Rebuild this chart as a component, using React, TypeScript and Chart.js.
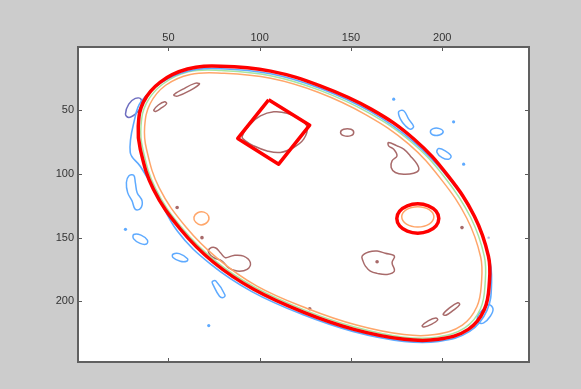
import { useEffect, useRef } from "react";
import { Chart, registerables } from "chart.js";

Chart.register(...registerables);

type P = [number, number];

// axis setup
const axisMin = 0.5;
const axisMax = 247.5;
const xTickValues = [50, 100, 150, 200];
const yTickValues = [50, 100, 150, 200];

// ---- contour lines (data coordinates) ----
const redEllipse: P[] = [
  [78.6, 15.5], [106, 19.4], [133.5, 31.2], [161, 49.2], [184.6, 72.8], [203.3, 101.8],
  [217.6, 133.2], [225.3, 164.6], [225.8, 185], [223.1, 206.2], [214.3, 221.9], [197.8, 229.7],
  [179.1, 229.7], [151.6, 221.9], [124.2, 208.6], [96.7, 190.5], [74.7, 169.3], [56.6, 143.4],
  [41.8, 112], [34.6, 80.6], [33.5, 62.6], [36.3, 43.7], [45.6, 28], [60.4, 17.8],
];
const blueEllipse: P[] = [
  [78.8, 17.5], [106, 21.5], [133.3, 33], [160.5, 51], [184, 74.5], [203, 102.5],
  [217.5, 133.5], [225.5, 164.5], [227, 185], [224.5, 207], [215, 223.5], [198, 231.3],
  [179, 231.3], [151, 223.5], [123.5, 210.3], [95.7, 192.3], [73.3, 171], [55, 145],
  [43, 114], [34.6, 94], [29.1, 83], [31.9, 54.7], [35, 43.5], [45.5, 29], [60.6, 19.5],
];
const greenEllipse: P[] = [
  [79, 19], [106, 23], [133, 34.5], [159.5, 52], [183, 75], [201.5, 103],
  [215.5, 134], [223, 164.5], [223.5, 185], [221, 205.5], [212.5, 220.5], [197, 228],
  [179, 228], [152, 220], [125, 207], [97.5, 189], [75.5, 168], [57.5, 142.5],
  [43, 111.5], [36, 80.5], [35, 62.5], [38, 44.5], [47, 29.5], [61, 20],
];
const orangeEllipse: P[] = [
  [79, 21], [106, 25], [132, 36], [158, 53.5], [181.5, 76.5], [199.5, 104.5],
  [213.5, 135], [221, 165], [221.5, 184.5], [219, 204], [211, 218.5], [196, 226],
  [179, 226], [153, 218.5], [126, 205.5], [98.5, 188], [77, 166.5], [59.5, 141.5],
  [45, 111], [38, 80.5], [37, 63], [40, 45], [48.5, 30.5], [62, 22],
];
const redSquare: P[] = [
  [104.9, 41.9], [127.4, 61.8], [110.4, 92.4], [88.0, 72.2],
];
const redCircle: P[] = [
  [198.1, 135], [196.6, 140.75], [192.35, 144.96], [186.6, 146.5], [180.85, 144.96], [176.64, 140.75],
  [175.1, 135], [176.64, 129.25], [180.85, 125.04], [186.6, 123.5], [192.35, 125.04], [196.6, 129.25],
];
const orangeCircle: P[] = [
  [195.4, 133.7], [192.8, 139.4], [186.6, 141.7], [180.4, 139.4],
  [177.8, 133.7], [180.4, 128], [186.6, 125.7], [192.8, 128],
];
const orangeBlob: P[] = [
  [64, 134], [66, 130.5], [69.5, 130], [72, 133], [71.5, 137.5], [68, 140], [65, 138],
];
const purpleBlob: P[] = [
  [26.5, 53.1], [28.3, 45.3], [31.9, 40.8], [35.0, 41.4], [34.7, 47.9], [31.9, 53.1], [28.3, 55.7],
];
const brownInSquare: P[] = [
  [90.4, 70.7], [94.9, 61.0], [100.4, 54.5], [107.7, 51.3], [115.0, 52.4], [122.3, 57.1], [126.0, 63.6],
  [124.1, 72.8], [118.6, 79.3], [111.3, 83.2], [104.1, 82.0], [96.7, 78.0], [92.2, 74.1],
];
const brownSmallOval: P[] = [
  [144.3, 67.5], [146, 65], [150, 65], [151.5, 67.5], [150, 70], [146, 70],
];
const brownHook: P[] = [
  [170.6, 75.4], [175.2, 78.0], [178.9, 80.6], [182.5, 85.9], [186.2, 92.4], [187.1, 96.9], [184.3, 99.5],
  [178.9, 100.3], [174.3, 98.9], [172.0, 95.0], [172.5, 89.8], [175.2, 85.9], [173.4, 80.6], [170.6, 78.0],
];
const brownBlobLower: P[] = [
  [156.1, 164.5], [159.7, 161.3], [164.3, 160.5], [168.8, 162.3], [173.8, 164.5], [172.5, 169.6],
  [173.8, 176.2], [169.8, 178.8], [164.3, 178.0], [160.6, 176.2], [157.9, 172.3], [156.6, 168.4],
];
const brownLoopLeft: P[] = [
  [72.6, 158.6], [75.7, 157.9], [78.5, 161.8], [81.2, 165.7], [85.8, 163.9], [91.2, 164.5], [94.9, 169.6],
  [93.1, 174.9], [87.6, 176.2], [83.0, 173.6], [79.4, 168.4], [74.8, 165.7], [72.1, 161.8],
];
const brownTopLeftA: P[] = [
  [53, 38], [58, 33.5], [64.5, 29], [67, 29.5], [62, 34.5], [55, 39],
];
const brownTopLeftB: P[] = [
  [42, 50], [44.5, 46], [48, 43.5], [49, 45], [46, 48.5], [43, 51],
];
const brownBottomRightA: P[] = [
  [200.5, 210], [204, 205], [208.5, 201], [209.5, 202.5], [206, 207], [202, 210.8],
];
const brownBottomRightB: P[] = [
  [189, 219], [192.5, 215], [196.5, 213], [197.5, 214.5], [194, 218], [190, 220],
];
const blueLeftBlob: P[] = [
  [28.3, 101.6], [31.0, 101.1], [31.9, 106.8], [32.9, 114.7], [35.6, 121.2],
  [34.7, 127.2], [31.9, 127.8], [30.1, 121.2], [27.7, 114.7], [27.0, 106.8],
];
const blueOvalA: P[] = [
  [31, 147.5], [35, 148], [38.5, 152], [38, 155], [34.5, 154.5], [31, 151],
];
const blueOvalB: P[] = [
  [52.5, 163], [56, 162.5], [60.5, 166.5], [60, 168.5], [56.5, 168.5], [52.5, 165.5],
];
const blueStroke: P[] = [
  [74, 184.5], [76, 184], [81, 195], [80, 197], [78, 196], [74.5, 187],
];
const blueBottomRight: P[] = [
  [225.4, 202.4], [227.8, 205.8], [226.3, 211.6], [222.7, 216.8], [219.9, 216.3], [219.4, 211.6], [222.7, 205.8],
];
const blueUpperRight: P[] = [
  [176.1, 51.3], [178.9, 50.5], [181.6, 57.1], [184.3, 62.8], [182.5, 64.9], [179.8, 62.3], [177.1, 57.1],
];
const blueSmallRight: P[] = [
  [193.5, 67], [195, 64.5], [198.5, 64.5], [200.5, 67], [198.5, 69.5], [195, 69.5],
];
const blueOvalRight: P[] = [
  [198.0, 80.1], [201.7, 82.0], [204.8, 85.9], [203.5, 88.5], [199.9, 87.2], [197.1, 83.3],
];
const blueDots: P[] = [
  [173.4, 41.4], [206.2, 59.2], [211.7, 92.4], [26.5, 143.5], [72.1, 218.9],
];
const purpleDots: P[] = [[225.4, 150]];
const brownDots: P[] = [
  [54.8, 126.4], [68.4, 150], [127.4, 205.8], [210.8, 142.1], [164.3, 168.9],
];

// colours
const RED = "#ff0000";
const BLUE = "#5eaaff";
const GREEN = "#a8e6a0";
const ORANGE = "#ffa66a";
const BROWN = "#a86a6a";
const PURPLE = "#6e6ec0";

const xy = (pts: P[]) => pts.map(([x, y]) => ({ x, y }));

function contour(pts: P[], color: string, width: number, smooth = true) {
  const n = pts.length;
  if (!smooth) {
    return {
      data: xy([...pts, pts[0]]),
      showLine: true,
      borderColor: color,
      borderWidth: width,
      borderJoinStyle: "round" as const,
      pointRadius: 0,
      tension: 0,
      fill: false,
    };
  }
  const len = n + 3;
  return {
    data: xy([pts[n - 1], ...pts, pts[0], pts[1]]),
    showLine: true,
    borderColor: color,
    borderWidth: width,
    pointRadius: 0,
    tension: 0.4,
    fill: false,
    segment: {
      borderColor: (ctx: any) =>
        ctx.p0DataIndex === 0 || ctx.p1DataIndex === len - 1 ? "rgba(0,0,0,0)" : undefined,
    },
  };
}

function dots(pts: P[], color: string, r: number) {
  return {
    data: xy(pts),
    showLine: false,
    pointRadius: r,
    pointBackgroundColor: color,
    pointBorderColor: color,
    pointBorderWidth: 0,
  };
}

const framePlugin = {
  id: "frame",
  beforeDraw(chart: any) {
    const { ctx, chartArea, width, height } = chart;
    ctx.save();
    ctx.fillStyle = "#cccccc";
    ctx.fillRect(0, 0, width, height);
    ctx.fillStyle = "#ffffff";
    ctx.fillRect(chartArea.left, chartArea.top, chartArea.right - chartArea.left, chartArea.bottom - chartArea.top);
    ctx.restore();
  },
  afterDraw(chart: any) {
    const { ctx, chartArea } = chart;
    const xs = chart.scales.x;
    const ys = chart.scales.y;
    ctx.save();
    ctx.strokeStyle = "#5a5a5a";
    ctx.lineWidth = 1;
    const tl = 4;
    ctx.beginPath();
    xTickValues.forEach((v) => {
      const px = Math.round(xs.getPixelForValue(v)) + 0.5;
      ctx.moveTo(px, chartArea.top);
      ctx.lineTo(px, chartArea.top + tl);
      ctx.moveTo(px, chartArea.bottom);
      ctx.lineTo(px, chartArea.bottom - tl);
    });
    yTickValues.forEach((v) => {
      const py = Math.round(ys.getPixelForValue(v)) + 0.5;
      ctx.moveTo(chartArea.left, py);
      ctx.lineTo(chartArea.left + tl, py);
      ctx.moveTo(chartArea.right, py);
      ctx.lineTo(chartArea.right - tl, py);
    });
    ctx.stroke();
    ctx.strokeStyle = "#606060";
    ctx.lineWidth = 2;
    ctx.strokeRect(chartArea.left, chartArea.top, chartArea.right - chartArea.left, chartArea.bottom - chartArea.top);
    ctx.restore();
  },
};

export default function App() {
  const ref = useRef<HTMLCanvasElement | null>(null);

  useEffect(() => {
    if (!ref.current) return;
    const tickFont = { size: 11, family: "'Liberation Sans', Arial, sans-serif" };
    const chart = new Chart(ref.current, {
      type: "scatter",
      data: {
        datasets: [
          contour(redEllipse, RED, 3.5),
          contour(redSquare, RED, 3.5, false),
          contour(redCircle, RED, 3.5),
          contour(orangeCircle, ORANGE, 1.5),
          contour(blueEllipse, BLUE, 1.6),
          contour(greenEllipse, GREEN, 1.5),
          contour(orangeEllipse, ORANGE, 1.5),
          contour(orangeBlob, ORANGE, 1.5),
          contour(purpleBlob, PURPLE, 1.5),
          contour(brownInSquare, BROWN, 1.5),
          contour(brownSmallOval, BROWN, 1.5),
          contour(brownHook, BROWN, 1.5),
          contour(brownBlobLower, BROWN, 1.5),
          contour(brownLoopLeft, BROWN, 1.5),
          contour(brownTopLeftA, BROWN, 1.5),
          contour(brownTopLeftB, BROWN, 1.5),
          contour(brownBottomRightA, BROWN, 1.5),
          contour(brownBottomRightB, BROWN, 1.5),
          contour(blueLeftBlob, BLUE, 1.5),
          contour(blueOvalA, BLUE, 1.5),
          contour(blueOvalB, BLUE, 1.5),
          contour(blueStroke, BLUE, 1.5),
          contour(blueBottomRight, BLUE, 1.5),
          contour(blueUpperRight, BLUE, 1.5),
          contour(blueSmallRight, BLUE, 1.5),
          contour(blueOvalRight, BLUE, 1.5),
          dots(blueDots, BLUE, 1.6),
          dots(purpleDots, "#b8b8e0", 1.2),
          dots(brownDots, BROWN, 1.8),
        ] as any,
      },
      options: {
        animation: false,
        responsive: false,
        devicePixelRatio: 1,
        layout: { padding: { left: 48, top: 27, right: 52, bottom: 27 } },
        plugins: { legend: { display: false }, tooltip: { enabled: false } },
        events: [],
        scales: {
          x: {
            type: "linear",
            position: "top",
            min: axisMin,
            max: axisMax,
            grid: { display: false, drawTicks: false },
            border: { display: false },
            ticks: { color: "#333", font: tickFont, padding: 2, maxRotation: 0 },
            afterBuildTicks: (s: any) => {
              s.ticks = xTickValues.map((v) => ({ value: v }));
            },
            afterFit: (s: any) => {
              s.height = 20;
            },
          },
          y: {
            type: "linear",
            position: "left",
            reverse: true,
            min: axisMin,
            max: axisMax,
            grid: { display: false, drawTicks: false },
            border: { display: false },
            ticks: { color: "#333", font: tickFont, padding: 4 },
            afterBuildTicks: (s: any) => {
              s.ticks = yTickValues.map((v) => ({ value: v }));
            },
            afterFit: (s: any) => {
              s.width = 30;
            },
          },
        },
      },
      plugins: [framePlugin],
    });
    return () => chart.destroy();
  }, []);

  return (
    <div style={{ position: "fixed", left: 0, top: 0, width: 581, height: 389 }}>
      <canvas ref={ref} width={581} height={389} style={{ display: "block" }} />
    </div>
  );
}
